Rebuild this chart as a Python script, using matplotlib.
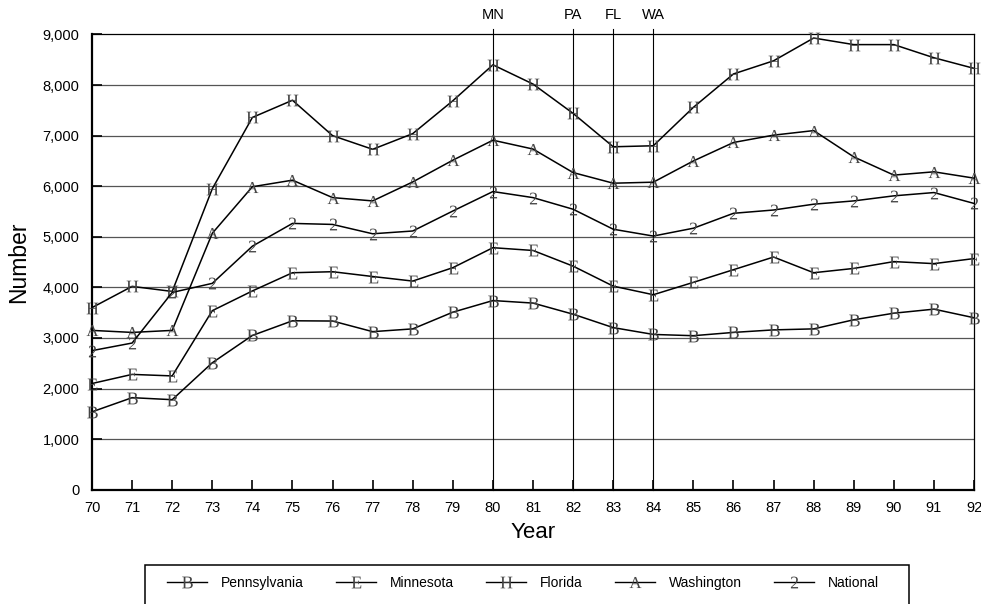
import matplotlib
matplotlib.use('Agg')
import matplotlib.pyplot as plt
from matplotlib.lines import Line2D
from matplotlib.patches import Rectangle
import matplotlib.transforms as mtransforms

plt.rcParams['font.family'] = ['Liberation Sans', 'DejaVu Sans']
plt.rcParams['mathtext.fontset'] = 'custom'
plt.rcParams['mathtext.rm'] = 'Liberation Serif'

# data
years = list(range(70, 93))
pennsylvania = [1540, 1820, 1780, 2510, 3050, 3340, 3335, 3125, 3180, 3510, 3740, 3690,
                3470, 3205, 3070, 3045, 3110, 3160, 3180, 3360, 3490, 3570, 3400]
minnesota = [2100, 2280, 2250, 3540, 3930, 4290, 4310, 4215, 4125, 4390, 4785, 4730,
             4420, 4025, 3855, 4100, 4350, 4600, 4290, 4375, 4510, 4470, 4570]
florida = [3600, 4020, 3920, 5950, 7360, 7700, 7000, 6730, 7040, 7690, 8400, 8020,
           7440, 6780, 6800, 7560, 8220, 8480, 8930, 8800, 8800, 8540, 8330]
washington = [3150, 3110, 3150, 5070, 5990, 6120, 5775, 5710, 6085, 6515, 6910, 6735,
              6270, 6060, 6080, 6500, 6865, 7010, 7100, 6580, 6220, 6285, 6160]
national = [2750, 2900, 3900, 4080, 4815, 5265, 5245, 5060, 5115, 5510, 5895, 5775,
            5545, 5150, 5015, 5170, 5465, 5530, 5645, 5710, 5810, 5875, 5660]

series_names = ['Pennsylvania', 'Minnesota', 'Florida', 'Washington', 'National']
series_values = [pennsylvania, minnesota, florida, washington, national]
series_letters = ['B', 'E', 'H', 'A', '2']

event_years = [80, 82, 83, 84]
event_labels = ['MN', 'PA', 'FL', 'WA']

y_ticks = list(range(0, 9001, 1000))

MARK_COLOR = '#444444'


def letter_marker(letter):
    return r'$\mathrm{%s}$' % letter


fig = plt.figure(figsize=(9.81, 6.04), dpi=100)
ax = fig.add_axes([0.0938, 0.1892, 0.8991, 0.7537])

for name, vals, letter in zip(series_names, series_values, series_letters):
    ax.plot(years, vals, color='black', lw=1.1, zorder=4, clip_on=False,
            marker=letter_marker(letter), markersize=8.5,
            markerfacecolor=MARK_COLOR, markeredgecolor=MARK_COLOR,
            markeredgewidth=0)

# horizontal grid
for v in y_ticks[1:-1]:
    ax.axhline(v, color='#555555', lw=0.9, zorder=1)

# event lines and labels above the plot
blend = mtransforms.blended_transform_factory(ax.transData, ax.transAxes)
for yr, lab in zip(event_years, event_labels):
    ax.axvline(yr, ymin=0, ymax=1.011, color='black', lw=0.8, clip_on=False, zorder=2)
    ax.text(yr, 1.043, lab, transform=blend, ha='center', va='center', fontsize=10.5)

ax.set_xlim(70, 92)
ax.set_ylim(0, 9000)
ax.set_xticks(years)
ax.set_xticklabels([str(y) for y in years])
ax.set_yticks(y_ticks)
ax.set_yticklabels([f'{v:,}' for v in y_ticks])
ax.tick_params(axis='both', direction='in', length=7, width=1.2, labelsize=10.5, color='black')
ax.tick_params(axis='x', pad=8)
ax.tick_params(axis='y', pad=9)

for side in ['left', 'bottom']:
    ax.spines[side].set_linewidth(1.6)
for side in ['top', 'right']:
    ax.spines[side].set_linewidth(0.9)

ax.set_xlabel('Year', fontsize=16, labelpad=5)
ax.set_ylabel('Number', fontsize=16.5, labelpad=9)

# legend in a box that runs off the bottom of the figure
handles = [Line2D([], [], color='black', lw=1.0, marker=letter_marker(letter),
                  markersize=8.5, markerfacecolor=MARK_COLOR, markeredgecolor=MARK_COLOR,
                  markeredgewidth=0)
           for letter in series_letters]
fig.legend(handles, series_names, loc='center', bbox_to_anchor=(0.533, 0.035), ncol=5,
           frameon=False, fontsize=10, handlelength=2.9, handletextpad=1.0,
           columnspacing=2.3, numpoints=1)
fig.patches.append(Rectangle((145 / 981, -0.05), (909 - 145) / 981, 0.05 + (604 - 565) / 604,
                             transform=fig.transFigure, fill=False, edgecolor='black', lw=1.1))

fig.savefig('out.png', dpi=100)
